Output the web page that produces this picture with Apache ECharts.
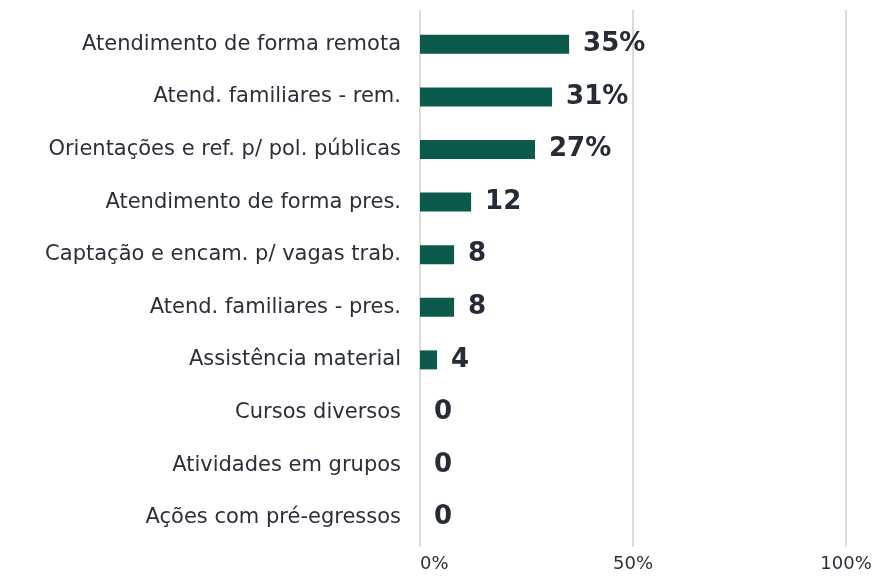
<!DOCTYPE html>
<html><head><meta charset="utf-8">
<script src="https://cdn.jsdelivr.net/npm/echarts@6/dist/echarts.min.js"></script>
<style>html,body{margin:0;padding:0;background:#fff}#c{width:877px;height:580px}</style>
</head><body><div id="c"></div>
<script>
const categories = ["Atendimento de forma remota","Atend. familiares - rem.","Orientações e ref. p/ pol. públicas","Atendimento de forma pres.","Captação e encam. p/ vagas trab.","Atend. familiares - pres.","Assistência material","Cursos diversos","Atividades em grupos","Ações com pré-egressos"];
const values = [35,31,27,12,8,8,4,0,0,0];
const valueLabels = ["35%","31%","27%","12","8","8","4","0","0","0"];
const xTicks = [0,50,100];

const FONT = "DejaVu Sans";
const chart = echarts.init(document.getElementById('c'));
chart.setOption({
  animation:false,
  grid:[
    {left:420,right:31,top:18,bottom:36},
    {left:420,right:31,top:10,bottom:33}
  ],
  xAxis:[
    {gridIndex:0,type:'value',min:xTicks[0],max:xTicks[2],interval:xTicks[1]-xTicks[0],axisLabel:{show:false},splitLine:{show:false},axisLine:{show:false},axisTick:{show:false}},
    {gridIndex:1,type:'value',min:xTicks[0],max:xTicks[2],interval:xTicks[1]-xTicks[0],
     axisLabel:{formatter:v=>v+'%',fontFamily:FONT,fontSize:18,color:'#2a2f3a',margin:8,alignMinLabel:'left'},
     splitLine:{show:true,lineStyle:{color:'#dcdcdc',width:2}},axisLine:{show:false},axisTick:{show:false}}
  ],
  yAxis:[
    {gridIndex:0,type:'category',data:categories,inverse:true,axisLine:{show:false},axisTick:{show:false},
     axisLabel:{fontFamily:FONT,fontSize:21,color:'#2a2f3a',margin:19}},
    {gridIndex:1,type:'category',data:categories,show:false}
  ],
  series:[{
    type:'bar',xAxisIndex:0,yAxisIndex:0,data:values,barWidth:19,
    itemStyle:{color:'#0b5a4b'},
    label:{show:true,position:'right',distance:14,formatter:p=>valueLabels[p.dataIndex],
      fontFamily:FONT,fontSize:26,fontWeight:'bold',color:'#252b37'}
  }]
});
</script></body></html>
